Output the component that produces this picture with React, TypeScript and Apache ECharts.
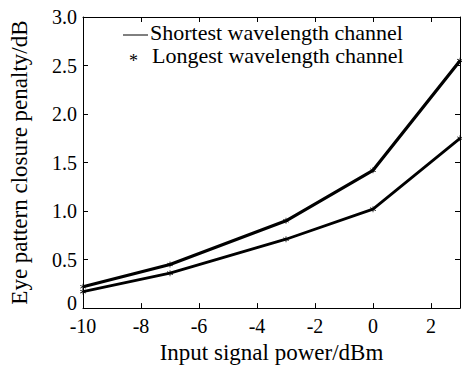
import React, { useEffect, useRef } from "react";
import * as echarts from "echarts";

const xValues = [-10, -7, -3, 0, 3];
const shortestSeries = [0.22, 0.45, 0.9, 1.42, 2.55];
const longestSeries = [0.17, 0.36, 0.71, 1.02, 1.75];
const seriesNames = ["Shortest wavelength channel", "Longest wavelength channel"];
const xTitle = "Input signal power/dBm";
const yTitle = "Eye pattern closure penalty/dB";

const FONT = "Liberation Serif";
const ASTERISK =
  "path://M4.5,0 L5.5,0 L5.5,3.6 L8.6,1.8 L9.1,2.7 L6,4.5 L9.1,6.3 L8.6,7.2 L5.5,5.4 L5.5,9 L4.5,9 L4.5,5.4 L1.4,7.2 L0.9,6.3 L4,4.5 L0.9,2.7 L1.4,1.8 L4.5,3.6 Z";

export default function App() {
  const ref = useRef<HTMLDivElement>(null);
  useEffect(() => {
    if (!ref.current) return;
    const chart = echarts.init(ref.current, null, { renderer: "svg" });
    const axisLine = { show: true, onZero: false, lineStyle: { color: "#000", width: 1 } };
    const tick = { show: true, inside: true, length: 5, lineStyle: { color: "#000" } };
    const mk = (vals: number[]) => xValues.map((x, i) => [x, vals[i]]);
    chart.setOption({
      animation: false,
      grid: { left: 73, right: 2, top: 17, bottom: 48, containLabel: false },
      xAxis: [
        {
          type: "value",
          min: -10,
          max: 3,
          interval: 2,
          axisLine,
          axisTick: tick,
          splitLine: { show: false },
          axisLabel: {
            color: "#000",
            fontFamily: FONT,
            fontSize: 20,
            margin: 8,
            showMaxLabel: false,
          },
          name: xTitle,
          nameLocation: "middle",
          nameGap: 30,
          nameTextStyle: { color: "#000", fontFamily: FONT, fontSize: 23 },
        },
        {
          type: "value",
          position: "top",
          min: -10,
          max: 3,
          interval: 2,
          axisLine,
          axisTick: tick,
          axisLabel: { show: false },
          splitLine: { show: false },
        },
      ],
      yAxis: [
        {
          type: "value",
          min: 0,
          max: 3,
          interval: 0.5,
          axisLine,
          axisTick: tick,
          splitLine: { show: false },
          axisLabel: {
            color: "#000",
            fontFamily: FONT,
            fontSize: 20,
            margin: 6,
            formatter: (v: number) => (v === 0 ? "{z|0}\n{s| }" : v.toFixed(1)),
            rich: {
              z: { color: "#000", fontFamily: FONT, fontSize: 20, lineHeight: 20 },
              s: { fontSize: 8, lineHeight: 10 },
            },
          },
          name: yTitle,
          nameLocation: "middle",
          nameGap: 52,
          nameTextStyle: { color: "#000", fontFamily: FONT, fontSize: 23 },
        },
        {
          type: "value",
          position: "right",
          min: 0,
          max: 3,
          interval: 0.5,
          axisLine,
          axisTick: tick,
          axisLabel: { show: false },
          splitLine: { show: false },
        },
      ],
      series: [
        {
          name: seriesNames[0],
          type: "line",
          data: mk(shortestSeries),
          lineStyle: { color: "#000", width: 3.2 },
          itemStyle: { color: "#000" },
          symbol: ASTERISK,
          symbolSize: 6,
          showSymbol: true,
        },
        {
          name: seriesNames[1],
          type: "line",
          data: mk(longestSeries),
          lineStyle: { color: "#000", width: 2.8 },
          itemStyle: { color: "#000" },
          symbol: ASTERISK,
          symbolSize: 6,
          showSymbol: true,
        },
      ],
      graphic: [
        {
          type: "line",
          shape: { x1: 123, y1: 35, x2: 148, y2: 35 },
          style: { stroke: "#000", lineWidth: 1 },
        },
        {
          type: "text",
          x: 150,
          y: 32.5,
          style: {
            text: seriesNames[0],
            fill: "#000",
            fontFamily: FONT,
            fontSize: 22,
            lineHeight: 22,
            verticalAlign: "middle",
          },
        },
        {
          type: "text",
          x: 129,
          y: 61,
          style: {
            text: "*",
            fill: "#000",
            fontFamily: FONT,
            fontSize: 18,
            verticalAlign: "middle",
          },
        },
        {
          type: "text",
          x: 152,
          y: 55.5,
          style: {
            text: seriesNames[1],
            fill: "#000",
            fontFamily: FONT,
            fontSize: 22,
            lineHeight: 22,
            verticalAlign: "middle",
          },
        },
      ],
    });
    return () => chart.dispose();
  }, []);
  return (
    <div
      ref={ref}
      style={{ position: "absolute", left: 0, top: 0, width: 462, height: 369 }}
    />
  );
}
